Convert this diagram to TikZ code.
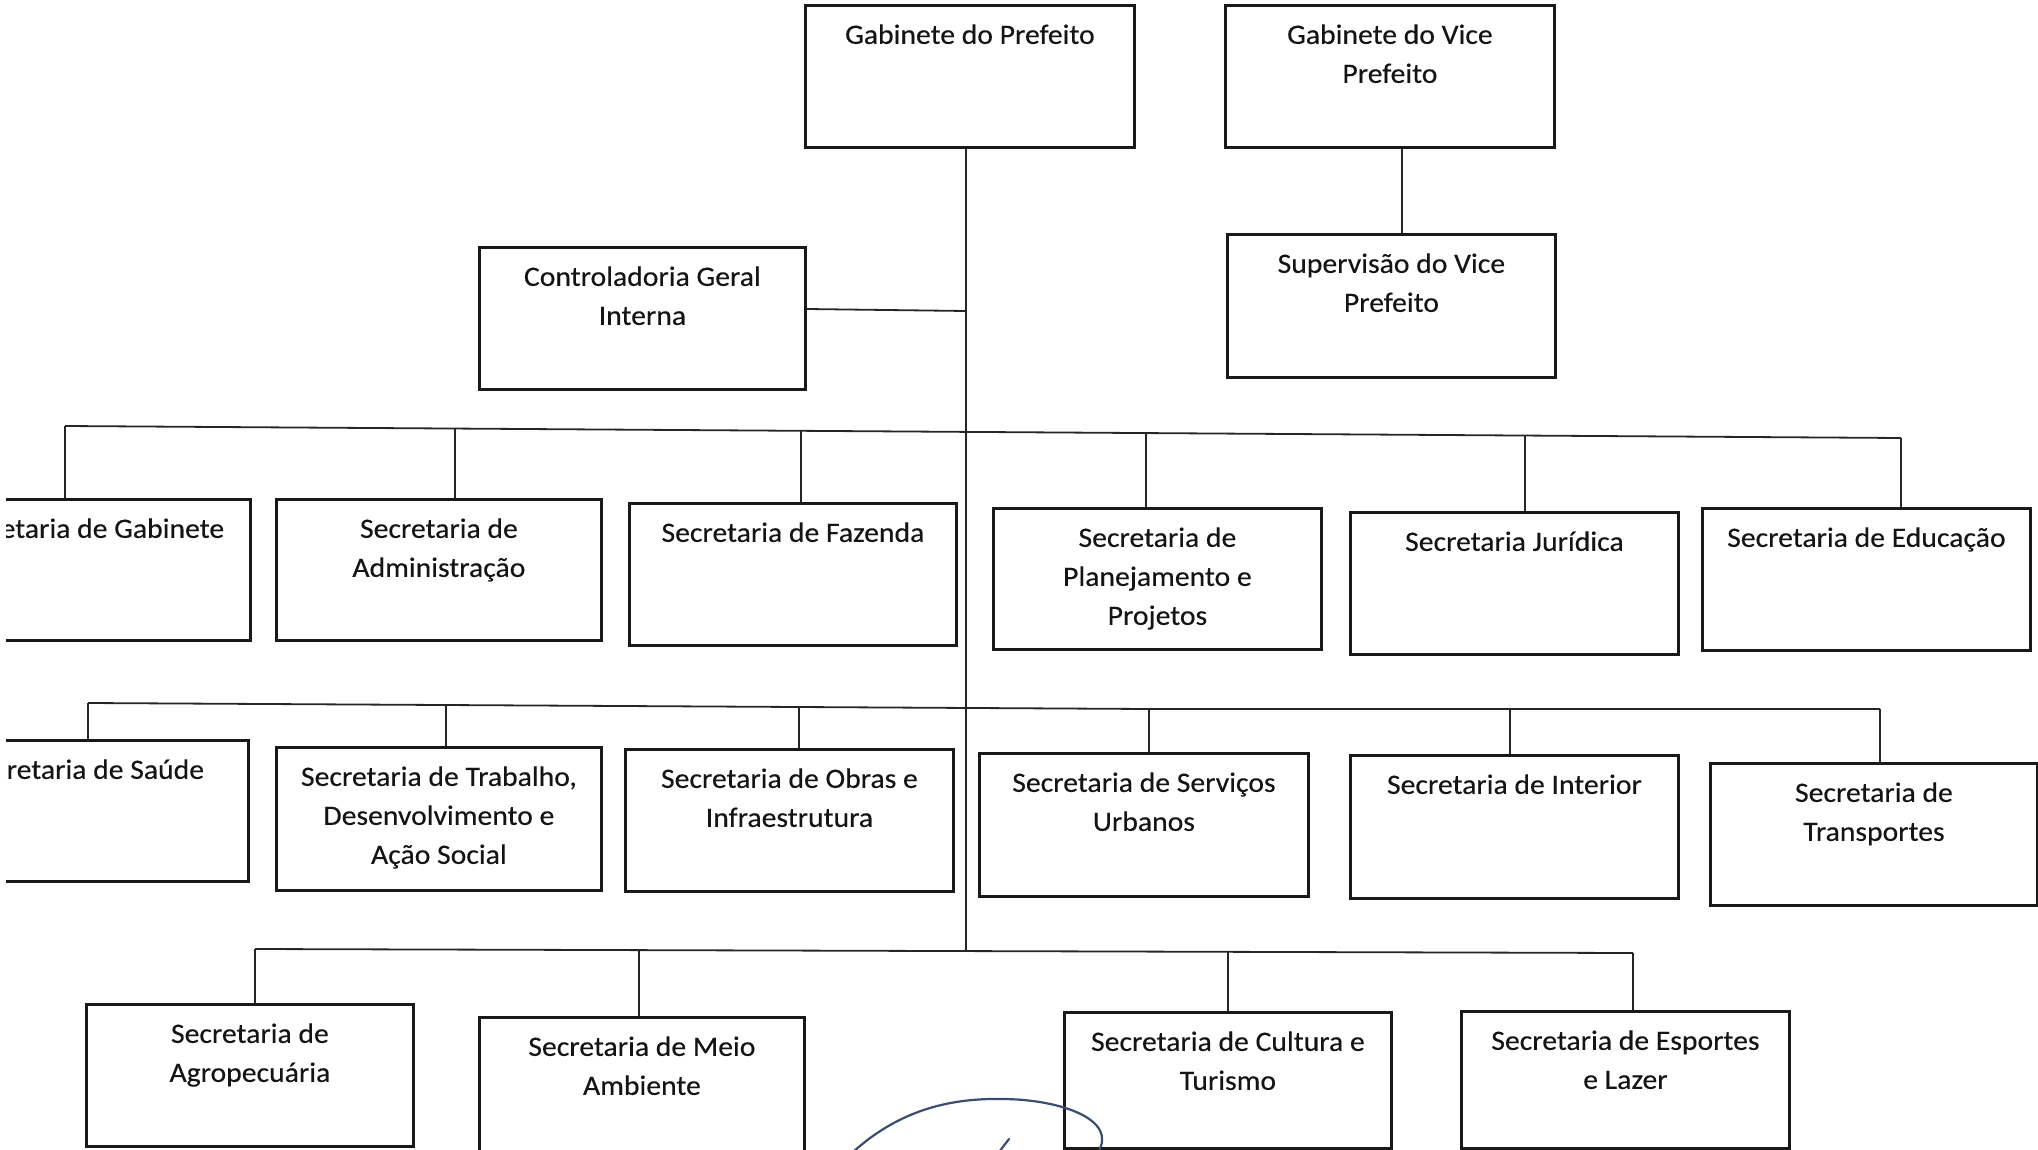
\documentclass[tikz,border=0pt]{standalone}
\usepackage{fontspec}
\setmainfont{Carlito}[FakeStretch=1.06, FakeBold=0.3]
\definecolor{inkblue}{HTML}{3A4C70}
\tikzset{
  box/.style={draw=black!90, line width=1.4pt, rectangle, inner sep=0pt, anchor=north west},
  lbl/.style={anchor=north, inner sep=0pt, align=center, text=black!92,
              font=\fontsize{14pt}{19.5pt}\selectfont},
  conn/.style={draw=black!85, line width=0.9pt},
  sig/.style={draw=inkblue, line width=1.1pt, line cap=round}
}
\newcommand\orgbox[6]{%
  \node[box, minimum width={(#4-(#2))*0.5pt}, minimum height={(#5-(#3))*0.5pt}] (#1) at (#2,#3) {};
  \node[lbl] (#1t) at ([yshift=-10pt]#1.north) {#6};
}
\begin{document}
\begin{tikzpicture}[x=0.5pt, y=-0.5pt]
\useasboundingbox (0,0) rectangle (2038,1150);
\begin{scope}
\clip (6,-20) rectangle (2045,1150);
% top level
\orgbox{gp}{804}{4}{1133}{146}{Gabinete do Prefeito}
\orgbox{vp}{1224}{4}{1553}{146}{Gabinete do Vice\\Prefeito}
\orgbox{sv}{1226}{233}{1554}{376}{Supervisão do Vice\\Prefeito}
\orgbox{ctl}{478}{246}{804}{388}{Controladoria Geral\\Interna}
% row 1
\orgbox{sgab}{-78}{498}{249}{639}{Secretaria de Gabinete}
\orgbox{sadm}{275}{498}{600}{639}{Secretaria de\\Administração}
\orgbox{sfaz}{628}{502}{955}{644}{Secretaria de Fazenda}
\orgbox{spla}{992}{507}{1320}{648}{Secretaria de\\Planejamento e\\Projetos}
\orgbox{sjur}{1349}{511}{1677}{653}{Secretaria Jurídica}
\orgbox{sedu}{1701}{507}{2029}{649}{Secretaria de Educação}
% row 2
\orgbox{ssau}{-80}{739}{247}{880}{Secretaria de Saúde}
\orgbox{stra}{275}{746}{600}{889}{Secretaria de Trabalho,\\Desenvolvimento e\\Ação Social}
\orgbox{sobr}{624}{748}{952}{890}{Secretaria de Obras e\\Infraestrutura}
\orgbox{sser}{978}{752}{1307}{895}{Secretaria de Serviços\\Urbanos}
\orgbox{sint}{1349}{754}{1677}{897}{Secretaria de Interior}
\orgbox{strn}{1709}{762}{2036}{904}{Secretaria de\\Transportes}
% row 3
\orgbox{sagr}{85}{1003}{412}{1145}{Secretaria de\\Agropecuária}
\orgbox{smei}{478}{1016}{803}{1160}{Secretaria de Meio\\Ambiente}
\orgbox{scul}{1063}{1011}{1390}{1147}{Secretaria de Cultura e\\Turismo}
\orgbox{sesp}{1460}{1010}{1788}{1147}{Secretaria de Esportes\\e Lazer}

% trunk
\coordinate (trk) at (966,950);
\draw[conn] (gp.south -| trk) -- (trk);
% controladoria
\coordinate (cj) at (966,311);
\draw[conn] (ctl.east |- 0,309) -- (cj);
% vice
\coordinate (vx) at (1402,0);
\draw[conn] (vp.south -| vx) -- (vx |- sv.north);

% row 1 bus and drops
\coordinate (a1) at (65,426);
\coordinate (a2) at (455,428.5);
\coordinate (a3) at (801,430.8);
\coordinate (a4) at (1146,433.1);
\coordinate (a5) at (1525,435.5);
\coordinate (a6) at (1901,438);
\draw[conn] (a1) -- (a6);
\draw[conn] (a1) -- (a1 |- sgab.north);
\draw[conn] (a2) -- (a2 |- sadm.north);
\draw[conn] (a3) -- (a3 |- sfaz.north);
\draw[conn] (a4) -- (a4 |- spla.north);
\draw[conn] (a5) -- (a5 |- sjur.north);
\draw[conn] (a6) -- (a6 |- sedu.north);

% row 2 bus and drops
\coordinate (b1) at (88,703);
\coordinate (b2) at (446,705);
\coordinate (b3) at (799,707);
\coordinate (b4) at (1149,709);
\coordinate (b5) at (1510,709);
\coordinate (b6) at (1880,709);
\draw[conn] (b1) -- (b3) -- (b4) -- (b6);
\draw[conn] (b1) -- (b1 |- ssau.north);
\draw[conn] (b2) -- (b2 |- stra.north);
\draw[conn] (b3) -- (b3 |- sobr.north);
\draw[conn] (b4) -- (b4 |- sser.north);
\draw[conn] (b5) -- (b5 |- sint.north);
\draw[conn] (b6) -- (b6 |- strn.north);

% row 3 bus and drops
\coordinate (c1) at (255,949);
\coordinate (c2) at (639,950);
\coordinate (c3) at (1228,952);
\coordinate (c4) at (1633,953);
\draw[conn] (c1) -- (c4);
\draw[conn] (c1) -- (c1 |- sagr.north);
\draw[conn] (c2) -- (c2 |- smei.north);
\draw[conn] (c3) -- (c3 |- scul.north);
\draw[conn] (c4) -- (c4 |- sesp.north);

% signature stroke
\draw[sig] (853,1152) .. controls (905,1105) and (960,1098) .. (1005,1099)
           .. controls (1062,1100) and (1118,1120) .. (1098,1152);
\draw[sig] (1009,1139) -- (999,1152);
\end{scope}
\end{tikzpicture}
\end{document}
